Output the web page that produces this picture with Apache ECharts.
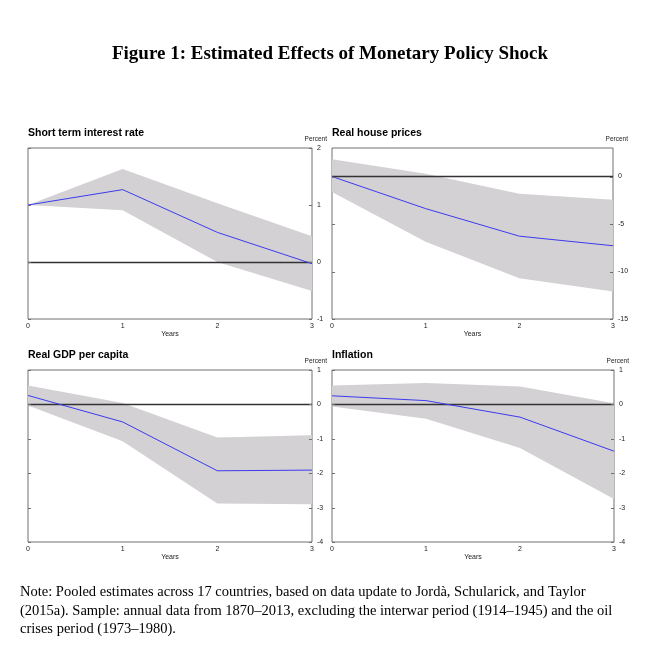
<!DOCTYPE html>
<html>
<head>
<meta charset="utf-8">
<script src="https://cdn.jsdelivr.net/npm/echarts@6/dist/echarts.min.js"></script>
<style>
html,body{margin:0;padding:0;background:#fff;}
#c{width:660px;height:659px;}
</style>
</head>
<body>
<div id="c"></div>
<script>
// ---- data ----
const years = [0, 1, 2, 3];
const panelTitles = ['Short term interest rate', 'Real house prices', 'Real GDP per capita', 'Inflation'];

const rateMid = [1.0, 1.27, 0.52, -0.03];
const rateLo  = [1.0, 0.91, 0.0, -0.51];
const rateHi  = [1.0, 1.63, 1.03, 0.45];

const houseMid = [0, -3.38, -6.28, -7.29];
const houseLo  = [-1.64, -6.87, -10.7, -12.1];
const houseHi  = [1.81, 0.28, -1.81, -2.44];

const gdpMid = [0.26, -0.51, -1.93, -1.91];
const gdpLo  = [-0.03, -1.07, -2.88, -2.90];
const gdpHi  = [0.55, 0.04, -0.96, -0.90];

const inflMid = [0.25, 0.11, -0.37, -1.36];
const inflLo  = [-0.06, -0.42, -1.27, -2.75];
const inflHi  = [0.55, 0.62, 0.52, 0.03];

const yRanges = [[-1, 2, 1], [-15, 3, 5], [-4, 1, 1], [-4, 1, 1]];
const rateTicks = [-1, 0, 1, 2];
const houseTicks = [-15, -10, -5, 0];
const gdpTicks = [-4, -3, -2, -1, 0, 1];
const inflTicks = [-4, -3, -2, -1, 0, 1];
const xTickLabels = ['0', '1', '2', '3'];
const mainTitle = 'Figure 1: Estimated Effects of Monetary Policy Shock';
const noteText = 'Note: Pooled estimates across 17 countries, based on data update to Jordà, Schularick, and Taylor\n(2015a). Sample: annual data from 1870–2013, excluding the interwar period (1914–1945) and the oil\ncrises period (1973–1980).';

// ---- layout ----
const panels = [
  {mid: rateMid, lo: rateLo, hi: rateHi, ticks: rateTicks},
  {mid: houseMid, lo: houseLo, hi: houseHi, ticks: houseTicks},
  {mid: gdpMid, lo: gdpLo, hi: gdpHi, ticks: gdpTicks},
  {mid: inflMid, lo: inflLo, hi: inflHi, ticks: inflTicks}
];
const grids = [
  {left: 28, top: 148, width: 284, height: 171},
  {left: 332, top: 148, width: 281, height: 171},
  {left: 28, top: 370, width: 284, height: 172},
  {left: 332, top: 370, width: 282, height: 172}
];

const sans = "'Liberation Sans', Arial, sans-serif";
const serif = "'Liberation Serif', 'Times New Roman', serif";
const bandColor = '#d3d1d3';
const lineColor = '#3b3bef';
const frameColor = '#707070';

const option = {
  animation: false,
  backgroundColor: '#fff',
  title: [],
  grid: [],
  xAxis: [],
  yAxis: [],
  series: [],
  graphic: []
};

option.title.push({
  text: mainTitle, left: 'center', top: 45, padding: 0,
  textStyle: {fontFamily: serif, fontSize: 19, fontWeight: 'bold', color: '#000'}
});

function bandRender(params, api) {
  if (params.dataIndex !== 0) return null;
  const n = params.dataInsideLength;
  const upper = [], lower = [];
  for (let j = 0; j < n; j++) {
    upper.push(api.coord([api.value(0, j), api.value(2, j)]));
    lower.push(api.coord([api.value(0, j), api.value(1, j)]));
  }
  return {
    type: 'polygon',
    shape: {points: upper.concat(lower.reverse())},
    style: {fill: bandColor, stroke: null}
  };
}

function tickRender(params, api) {
  const cs = params.coordSys;
  const y = Math.round(api.coord([0, api.value(0)])[1]) + 0.5;
  const st = {stroke: frameColor, lineWidth: 1};
  return {
    type: 'group',
    children: [
      {type: 'line', shape: {x1: cs.x, y1: y, x2: cs.x + 3, y2: y}, style: st},
      {type: 'line', shape: {x1: cs.x + cs.width - 3, y1: y, x2: cs.x + cs.width, y2: y}, style: st}
    ]
  };
}

grids.forEach((g, i) => {
  option.grid.push(Object.assign({show: true, borderColor: frameColor, borderWidth: 1, backgroundColor: 'transparent'}, g));
  option.title.push({
    text: panelTitles[i], left: g.left, top: g.top - 20, padding: 0,
    textStyle: {fontFamily: sans, fontSize: 10.5, fontWeight: 'bold', color: '#000'}
  });
  const r = yRanges[i];
  option.xAxis.push({
    type: 'value', gridIndex: i, min: 0, max: 3, interval: 1,
    name: 'Years', nameLocation: 'middle', nameGap: 11,
    nameTextStyle: {fontFamily: sans, fontSize: 7, color: '#222'},
    axisLine: {show: false}, axisTick: {show: false}, splitLine: {show: false},
    axisLabel: {fontFamily: sans, fontSize: 7, color: '#222', margin: 4,
      formatter: v => xTickLabels[years.indexOf(v)] ?? ''}
  });
  option.yAxis.push({
    type: 'value', gridIndex: i, position: 'right', min: r[0], max: r[1], interval: r[2],
    axisLine: {show: false}, splitLine: {show: false}, axisTick: {show: false},
    axisLabel: {fontFamily: sans, fontSize: 7, color: '#222', margin: 5, align: 'left',
      formatter: v => (panels[i].ticks.indexOf(v) >= 0 ? String(v) : '')}
  });
  const p = panels[i];
  option.series.push({
    type: 'custom', xAxisIndex: i, yAxisIndex: i,
    data: years.map((x, k) => [x, p.lo[k], p.hi[k]]),
    encode: {x: 0, y: [1, 2]},
    renderItem: bandRender, silent: true, z: 1
  });
  option.series.push({
    type: 'custom', xAxisIndex: i, yAxisIndex: i,
    data: p.ticks.map(v => [v]),
    encode: {y: 0},
    renderItem: tickRender, silent: true, z: 4, clip: false
  });
  option.series.push({
    type: 'line', xAxisIndex: i, yAxisIndex: i,
    data: years.map((x, k) => [x, p.mid[k]]),
    symbol: 'none', lineStyle: {color: lineColor, width: 1}, z: 3,
    markLine: {
      silent: true, symbol: 'none', label: {show: false},
      lineStyle: {color: '#333', width: 1.3, type: 'solid'},
      data: [{yAxis: 0}], z: 2
    }
  });
  option.graphic.push({
    type: 'text', x: g.left + g.width + 15, y: g.top - 9,
    style: {text: 'Percent', fontFamily: sans, fontSize: 6.5, fill: '#222', textAlign: 'right', textVerticalAlign: 'middle'}
  });
});

option.graphic.push({
  type: 'text', x: 20, y: 583,
  style: {text: noteText, fontFamily: serif, fontSize: 14.5, lineHeight: 18.5, fill: '#000', textAlign: 'left', textVerticalAlign: 'top'}
});

const chart = echarts.init(document.getElementById('c'), null, {renderer: 'canvas'});
chart.setOption(option);
</script>
</body>
</html>
